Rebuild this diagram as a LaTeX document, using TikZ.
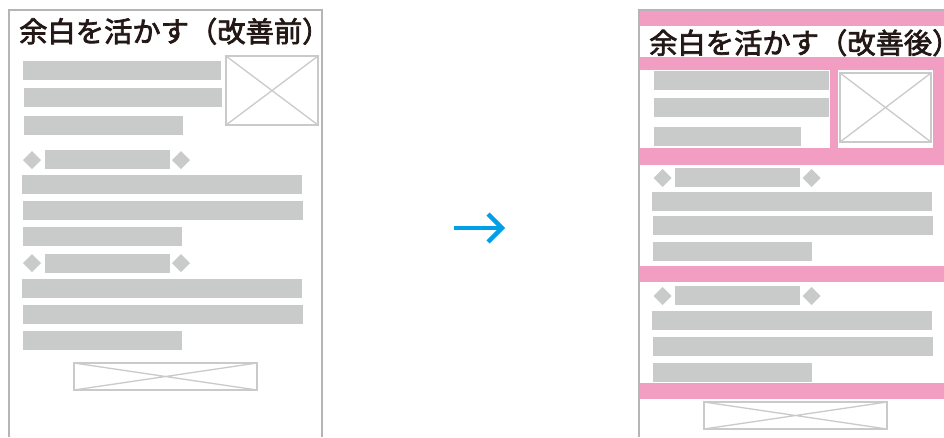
\documentclass[tikz,border=0pt]{standalone}
\usepackage{fontspec}
\newfontfamily\cjk[FakeBold=2.5]{Noto Sans CJK JP}
\definecolor{barg}{HTML}{C9CACA}
\definecolor{frameg}{HTML}{B5B5B6}
\definecolor{pinkc}{HTML}{F19EC2}
\definecolor{titlec}{HTML}{231815}
\definecolor{arrowc}{HTML}{00A0E9}
\newcommand\mybar[4]{\fill[barg] (#1,#2) rectangle (#3,#4);}
\newcommand\mydia[2]{\fill[barg] (#1-9,#2) -- (#1,#2-9) -- (#1+9,#2) -- (#1,#2+9) -- cycle;}
\newcommand\myimg[4]{\draw[imgline] (#1,#2) rectangle (#3,#4); \draw[xline] (#1,#2) -- (#3,#4) (#1,#4) -- (#3,#2);}
\begin{document}
\begin{tikzpicture}[x=1pt,y=-1pt,
  frameline/.style={draw=frameg,line width=2pt},
  imgline/.style={draw=barg,line width=2pt},
  xline/.style={draw=barg,line width=1.3pt},
  titletext/.style={anchor=base west,inner sep=0pt,text=titlec,font=\cjk\fontsize{28.3}{30}\selectfont},
  pinkfill/.style={fill=pinkc}]
\useasboundingbox (0,0) rectangle (944,437);
\fill[white] (0,0) rectangle (944,437);
% ---------- left panel ----------
\node[titletext] (t1) at (19,42) {余白を活かす（改善前）};
\mybar{23}{61}{221}{80}
\mybar{24}{88}{222}{107}
\mybar{24}{116}{183}{135}
\myimg{226}{56}{318}{125}
\mydia{32}{160}
\mybar{45}{150}{170}{169}
\mydia{181}{160}
\mybar{22}{175}{302}{194}
\mybar{23}{201}{303}{220}
\mybar{23}{227}{182}{246}
\mydia{32}{263}
\mybar{45}{254}{170}{273}
\mydia{181}{263}
\mybar{22}{279}{302}{298}
\mybar{23}{305}{303}{324}
\mybar{23}{331}{182}{350}
\myimg{74}{363}{257}{390}
\draw[frameline] (8.5,437) -- (8.5,10) -- (321.5,10) -- (321.5,437);
% ---------- arrow ----------
\coordinate (as) at (454,228);
\coordinate (ae) at (502,228);
\draw[arrowc,line width=4.5pt,line join=miter] (as) -- (ae);
\draw[arrowc,line width=4.5pt,line join=miter] (488,214) -- (ae) -- (488,242);
% ---------- right panel ----------
\begin{scope}
\clip (630,0) rectangle (944,437);
\fill[pinkfill] (638,10) rectangle (950,26);
\fill[pinkfill] (638,57) rectangle (950,70);
\fill[pinkfill] (830,70) rectangle (838,148);
\fill[pinkfill] (933,70) rectangle (950,148);
\fill[pinkfill] (638,148) rectangle (950,165);
\fill[pinkfill] (638,266) rectangle (950,282);
\fill[pinkfill] (638,383) rectangle (950,399);
\node[titletext] (t2) at (649,53.5) {余白を活かす（改善後）};
\mybar{654}{71}{829}{90}
\mybar{654}{98}{829}{117}
\mybar{654}{127}{801}{146}
\myimg{840}{73}{931}{142}
\mydia{662.5}{178}
\mybar{675}{168}{800}{187}
\mydia{811.5}{178}
\mybar{652}{192}{932}{211}
\mybar{653}{216}{933}{235}
\mybar{653}{242}{812}{261}
\mydia{662.5}{296}
\mybar{675}{286}{800}{305}
\mydia{811.5}{296}
\mybar{652}{311}{932}{330}
\mybar{653}{337}{933}{356}
\mybar{653}{363}{812}{382}
\myimg{704}{402}{887}{429}
\draw[frameline] (638.5,437) -- (638.5,9.5) -- (950,9.5);
\end{scope}
\end{tikzpicture}
\end{document}
